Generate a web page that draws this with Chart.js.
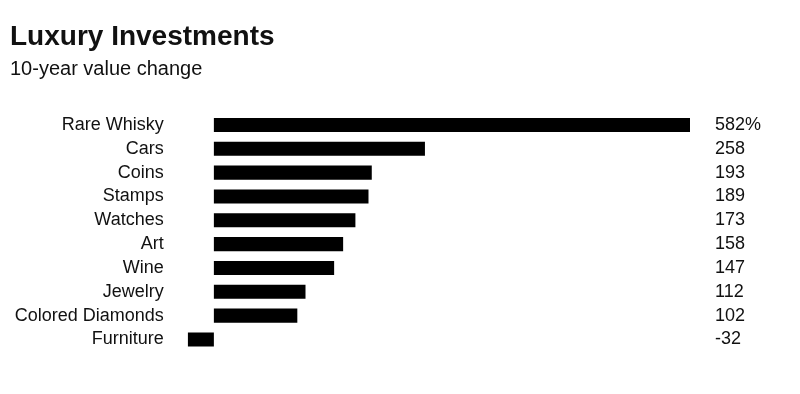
<!DOCTYPE html>
<html>
<head>
<meta charset="utf-8">
<script src="https://cdn.jsdelivr.net/npm/chart.js@4/dist/chart.umd.min.js"></script>
<style>
html,body{margin:0;padding:0;background:#fff;}
#wrap{width:800px;height:394px;position:relative;}
</style>
</head>
<body>
<div id="wrap"><canvas id="c" width="800" height="394"></canvas></div>
<script>
const titleText = "Luxury Investments";
const subtitleText = "10-year value change";
const categories = ["Rare Whisky","Cars","Coins","Stamps","Watches","Art","Wine","Jewelry","Colored Diamonds","Furniture"];
const values = [582,258,193,189,173,158,147,112,102,-32];
const valueLabels = ["582%","258","193","189","173","158","147","112","102","-32"];

const FONT = "'Liberation Sans', Arial, Helvetica, sans-serif";
const INK = "#111";

const headerPlugin = {
  id: 'header',
  afterDraw(chart) {
    const ctx = chart.ctx;
    ctx.save();
    ctx.fillStyle = INK;
    ctx.textAlign = 'left';
    ctx.textBaseline = 'alphabetic';
    ctx.font = "bold 28px " + FONT;
    ctx.fillText(titleText, 10, 45);
    ctx.font = "20px " + FONT;
    ctx.fillText(subtitleText, 10, 75);
    ctx.restore();
  }
};

new Chart(document.getElementById('c'), {
  type: 'bar',
  data: {
    labels: categories,
    datasets: [{
      data: values,
      backgroundColor: '#000',
      borderWidth: 0,
      barPercentage: 0.59,
      categoryPercentage: 1.0
    }]
  },
  options: {
    indexAxis: 'y',
    responsive: false,
    animation: false,
    devicePixelRatio: 1,
    layout: { padding: { top: 113, bottom: 42.6, left: 0, right: 0 } },
    plugins: { legend: { display: false }, tooltip: { enabled: false }, title: { display: false } },
    scales: {
      x: {
        display: false,
        min: -32,
        max: 582
      },
      y: {
        position: 'left',
        grid: { display: false, drawTicks: false },
        border: { display: false },
        ticks: { color: INK, font: { family: FONT, size: 18 }, padding: 24, autoSkip: false },
        afterFit(s) { s.width = 187.7; }
      },
      y2: {
        type: 'category',
        labels: valueLabels,
        position: 'right',
        offset: true,
        grid: { display: false, drawTicks: false },
        border: { display: false },
        ticks: { color: INK, font: { family: FONT, size: 18 }, padding: 25, autoSkip: false },
        afterFit(s) { s.width = 110; }
      }
    }
  },
  plugins: [headerPlugin]
});
</script>
</body>
</html>
